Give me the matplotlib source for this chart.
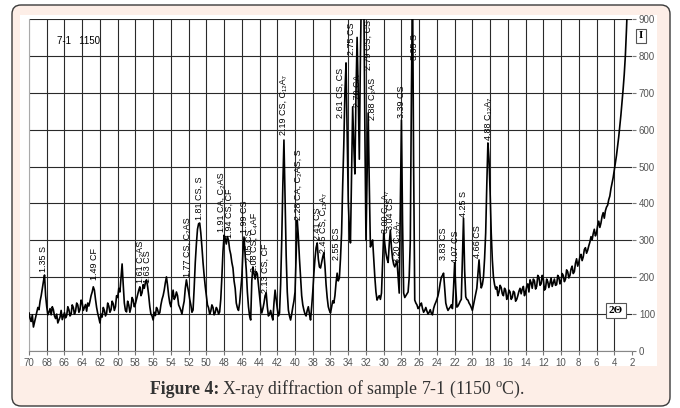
import numpy as np
import matplotlib
matplotlib.use("Agg")
import matplotlib.pyplot as plt
from matplotlib.patches import FancyBboxPatch, Rectangle

plt.rcParams['mathtext.fontset'] = 'custom'
plt.rcParams['mathtext.rm'] = 'Liberation Serif'
plt.rcParams['mathtext.bf'] = 'Liberation Serif:bold'

# ---- data: intensity read every 0.125 deg 2-theta, starting at 70 and descending ----
start_2theta = 70.0
step_2theta = 0.125
intensity = [
    103,
    88, 80, 98, 65, 78, 92, 104, 118,            # 69
    112, 135, 150, 170, 188, 206, 150, 120,      # 68
    98, 105, 115, 98, 120, 112, 95, 88,          # 67
    100, 76, 84, 92, 110, 85, 95, 104,           # 66
    90, 96, 120, 112, 95, 100, 125, 118,         # 65
    100, 108, 130, 125, 105, 112, 138, 130,      # 64
    110, 118, 126, 108, 130, 122, 135, 150,      # 63
    160, 174, 165, 140, 118, 102, 90, 76,        # 62
    100, 92, 118, 110, 95, 102, 130, 122,        # 61
    105, 112, 135, 128, 110, 120, 150, 145,      # 60
    170, 160, 200, 236, 180, 130, 110, 106,      # 59
    135, 125, 105, 118, 145, 138, 120, 128,      # 58
    140, 152, 165, 174, 150, 158, 180, 170,      # 57
    185, 193, 175, 150, 120, 100, 95, 84,        # 56
    105, 96, 118, 112, 100, 104, 125, 140,       # 55
    150, 165, 185, 201, 178, 150, 130, 120,      # 54
    145, 165, 140, 146, 160, 150, 125, 118,      # 53
    110, 100, 120, 135, 170, 193, 175, 160,      # 52
    140, 125, 105, 111, 170, 240, 290, 330,      # 51
    345, 347, 320, 282, 240, 205, 175, 150,      # 50
    125, 117, 100, 108, 125, 118, 98, 104,       # 49
    118, 112, 100, 106, 140, 200, 270, 314,      # 48
    305, 290, 310, 300, 275, 262, 240, 225,      # 47
    190, 170, 130, 117, 110, 130, 165, 200,      # 46
    270, 309, 260, 220, 160, 120, 95, 84,        # 45
    190, 228, 210, 195, 215, 209, 180, 150,      # 44
    120, 103, 115, 130, 150, 157, 120, 95,       # 43
    100, 110, 95, 84, 130, 165, 140, 115,        # 42
    95, 103, 180, 300, 450, 572, 420, 260,       # 41
    160, 111, 95, 84, 100, 119, 135, 160,        # 40
    260, 355, 310, 250, 200, 150, 125, 111,      # 39
    100, 95, 110, 120, 100, 84, 120, 160,        # 38
    210, 250, 280, 293, 250, 228, 225, 240,      # 37
    255, 266, 230, 180, 145, 120, 110, 103,      # 36
    120, 136, 130, 150, 185, 211, 190, 198,      # 35
    250, 320, 450, 560, 700, 781, 600, 409,      # 34
    330, 293, 480, 662, 560, 480, 700, 850,      # 33
    700, 520, 800, 1000, 1000, 1000, 600, 300,   # 32
    480, 645, 450, 282, 290, 301, 250, 200,      # 31
    160, 138, 145, 150, 140, 157, 240, 320,      # 30
    290, 266, 250, 240, 290, 328, 280, 250,      # 29
    235, 228, 236, 244, 200, 157, 400, 626,      # 28
    350, 157, 145, 150, 155, 160, 200, 300,      # 27
    700, 1000, 500, 138, 130, 125, 115, 119,     # 26
    125, 130, 115, 105, 110, 118, 108, 100,      # 25
    105, 112, 102, 98, 115, 125, 132, 140,       # 24
    150, 165, 185, 200, 205, 211, 170, 130,      # 23
    118, 110, 115, 119, 125, 115, 170, 239,      # 22
    170, 119, 122, 128, 135, 140, 250, 360,      # 21
    220, 147, 140, 138, 130, 125, 118, 110,      # 20
    125, 140, 155, 170, 210, 247, 200, 171,      # 19
    180, 200, 250, 320, 450, 564, 520, 430,      # 18
    320, 247, 200, 180, 168, 174, 150, 160,      # 17
    178, 172, 155, 150, 170, 165, 140, 148,      # 16
    165, 160, 140, 145, 162, 158, 135, 140,      # 15
    150, 162, 170, 155, 168, 175, 150, 160,      # 14
    175, 182, 160, 193, 185, 170, 195, 190,      # 13
    168, 175, 205, 200, 178, 182, 205, 195,      # 12
    165, 170, 195, 188, 172, 184, 198, 175,      # 11
    185, 195, 178, 180, 205, 200, 182, 190,      # 10
    210, 205, 188, 195, 220, 215, 198, 205,      # 9
    222, 230, 210, 215, 238, 250, 230, 240,      # 8
    255, 262, 245, 255, 275, 280, 265, 273,      # 7
    285, 295, 310, 301, 318, 330, 312, 320,      # 6
    340, 352, 335, 347, 365, 375, 360, 380,      # 5
    390, 395, 410, 420, 440, 455, 470, 490,      # 4
    510, 530, 555, 580, 610, 640, 675, 710,      # 3
    750, 800, 870, 950,                          # 2
]

peak_labels = [
    "1.35 S", "1.49 CF", "1.61 C₂AS", "1.63 CS", "1.77 CS, C₂AS", "1.81 CS, S",
    "1.91 CA, C₂AS", "1.94 CS, CF", "1.99 CS", "2.05 CS", "2.08 CS, C₄AF",
    "2.13 CS, CF", "2.19 CS, C₁₂A₇", "2.28 CA, C₂AS, S", "2.41 CS",
    "2.45 CS, C₁₂A₇", "2.55 CS", "2.61 CS, CS", "2.75 CS", "2.70 CA",
    "2.79 CS, CS", "2.88 C₂AS", "3.00 C₁₂A₇", "3.04 CS", "3.20 C₁₂A₇",
    "3.39 CS", "3.35 S", "3.83 CS", "4.07 CS", "4.25 S", "4.66 CS", "4.88 C₁₂A₇",
]
peak_label_2theta = [
    68.31, 62.56, 57.48, 56.69, 52.18, 50.83,
    48.35, 47.45, 45.65, 45.19, 44.63,
    43.39, 41.36, 39.67, 37.52,
    36.85, 35.27, 34.93, 33.58, 32.90,
    31.77, 31.32, 29.85, 29.18, 28.50,
    27.94, 26.58, 23.31, 21.85, 20.95, 19.37, 18.13,
]
peak_label_base = [
    214, 192, 184, 184, 200, 355,
    323, 306, 320, 241, 214,
    157, 586, 355, 301,
    266, 247, 632, 802, 661,
    762, 626, 320, 328, 239,
    632, 789, 247, 239, 363, 252, 572,
]

x_ticks = list(range(70, 1, -2))
y_ticks = list(range(0, 901, 100))

# ---- figure ----
W, H = 680, 408
fig = plt.figure(figsize=(W / 100, H / 100), dpi=100)
fig.patch.set_facecolor('white')

bg = fig.add_axes([0, 0, 1, 1])
bg.set_xlim(0, W)
bg.set_ylim(H, 0)
bg.axis('off')
card = FancyBboxPatch((12, 5), 658, 401, boxstyle="round,pad=0,rounding_size=9",
                      fc='#fdeee7', ec='#3a3a3a', lw=1.0)
bg.add_patch(card)
bg.add_patch(Rectangle((20, 15), 637, 351, fc='white', ec='none'))

renderer = fig.canvas.get_renderer()
t1 = bg.text(150, 389, "Figure 4:", ha='left', va='center', fontsize=12.8,
             family='Liberation Serif', fontweight='bold', color='#333333')
bb = t1.get_window_extent(renderer=renderer)
x_after = bg.transData.inverted().transform((bb.x1, bb.y0))[0] + 3
bg.text(x_after, 389, r"X-ray diffraction of sample 7-1 (1150 $^{\mathrm{o}}$C).",
        ha='left', va='center', fontsize=12.8, family='Liberation Serif', color='#333333')

bg.text(641, 36, "I", ha='center', va='center', fontsize=8, family='Liberation Serif',
        fontweight='bold', bbox=dict(boxstyle='square,pad=0.25', fc='white', ec='#555555', lw=0.8))

ax = fig.add_axes([29 / W, 1 - 351 / H, 603 / W, 332 / H])
ax.set_facecolor('none')
two_theta = start_2theta - step_2theta * np.arange(len(intensity))
ax.plot(two_theta, intensity, color='black', lw=1.2, zorder=3)
ax.set_xlim(70, 2)
ax.set_ylim(0, 900)
ax.set_xticks(x_ticks)
ax.set_yticks(y_ticks)
ax.tick_params(axis='x', direction='out', length=3, width=0.8, color='#777777',
               labelsize=7, labelcolor='#555555', pad=2)
ax.yaxis.tick_right()
ax.tick_params(axis='y', direction='out', length=3, width=0.8, color='#777777',
               labelsize=7, labelcolor='#555555', pad=2)
for lab in ax.get_xticklabels() + ax.get_yticklabels():
    lab.set_family('Liberation Sans')
ax.grid(True, color='#2a2a2a', lw=0.8, zorder=1)
xg = ax.get_xgridlines()
xg[0].set_color('#aaaaaa')
xg[-1].set_visible(False)
for s in ['top', 'right']:
    ax.spines[s].set_visible(False)
ax.spines['left'].set_color('#aaaaaa')
ax.spines['bottom'].set_color('#888888')
ax.set_axisbelow(True)

for lab, xx, yy in zip(peak_labels, peak_label_2theta, peak_label_base):
    ax.text(xx, yy, lab, rotation=90, ha='center', va='bottom', fontsize=6.5,
            family=['Liberation Sans', 'DejaVu Sans'], color='black', zorder=4)

ax.text(66.8, 840, "7-1   1150", fontsize=7, family='Liberation Sans', va='center', ha='left')
ax.text(3.8, 110, "2Θ", ha='center', va='center', fontsize=8, family='Liberation Serif',
        fontweight='bold', bbox=dict(boxstyle='square,pad=0.3', fc='white', ec='#555555', lw=0.8),
        zorder=5)

fig.savefig('out.png', dpi=100)
